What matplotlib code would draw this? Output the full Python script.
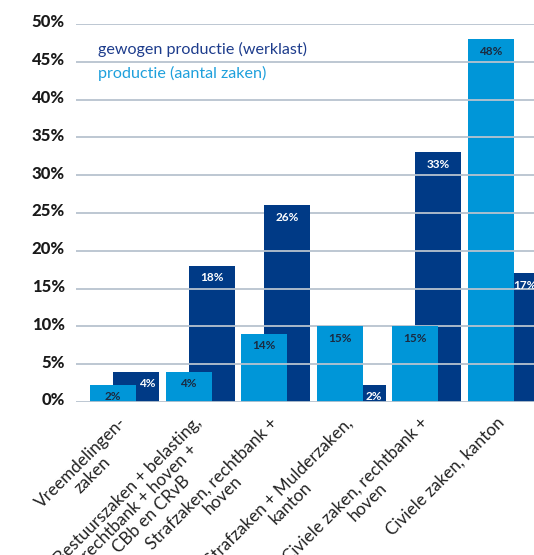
import matplotlib
matplotlib.use("Agg")
import matplotlib.pyplot as plt
from matplotlib.transforms import ScaledTranslation
import numpy as np

plt.rcParams["font.family"] = ["Lato", "DejaVu Sans"]

categories = [
    "Vreemdelingen-\nzaken",
    "Bestuurszaken + belasting,\nrechtbank + hoven +\nCBb en CRvB",
    "Strafzaken, rechtbank +\nhoven",
    "Strafzaken + Mulderzaken,\nkanton",
    "Civiele zaken, rechtbank +\nhoven",
    "Civiele zaken, kanton",
]
# bar heights as drawn in the source picture
aantal_heights = [2.3, 4, 9, 10, 10, 48]
werklast_heights = [4, 18, 26, 2.3, 33, 17]
# value labels as printed on the bars
aantal_labels = ["2%", "4%", "14%", "15%", "15%", "48%"]
werklast_labels = ["4%", "18%", "26%", "2%", "33%", "17%"]
yticks = [0, 5, 10, 15, 20, 25, 30, 35, 40, 45, 50]

light = "#0096d8"
dark = "#003a86"
grid_c = "#b7c3cf"

fig = plt.figure(figsize=(5.34, 5.55), dpi=100)
ax = fig.add_axes([76 / 534, 0.2757, 1 - 76 / 534, 0.6811])

x = np.arange(len(categories))
w = 0.608
off = 0.304
cap = 1.4  # top part of each bar kept clear of gridlines, around the label

ax.bar(x + off, werklast_heights, width=w, color=dark, zorder=1)
ax.bar(x, aantal_heights, width=w, color=light, zorder=1.5)

for yv in yticks:
    ax.axhline(yv, color=grid_c, lw=1.3, zorder=2)

# caps: only on the part of the dark bar that the light bar does not hide
for i in range(len(categories)):
    hd, hl = werklast_heights[i], aantal_heights[i]
    c = min(cap, hd)
    if hl > hd - c:
        left, right = x[i] + w / 2, x[i] + off + w / 2
    else:
        left, right = x[i] + off - w / 2, x[i] + off + w / 2
    ax.bar(left, c, bottom=hd - c, width=right - left, align="edge", color=dark, zorder=2.5)
    c = min(cap, hl)
    ax.bar(x[i], c, bottom=hl - c, width=w, color=light, zorder=2.6)

lab_pad = -12 * 72 / 100
for i in range(len(categories)):
    ax.annotate(aantal_labels[i], (x[i], aantal_heights[i]), xytext=(0, lab_pad),
                textcoords="offset points", ha="center", va="center",
                fontsize=8.5, fontweight="bold", color="#1b2a40", zorder=4)
    xd = x[i] + off
    if aantal_heights[i] > werklast_heights[i] - 2:
        xd = x[i] + off + w / 4
    ax.annotate(werklast_labels[i], (xd, werklast_heights[i]), xytext=(0, lab_pad),
                textcoords="offset points", ha="center", va="center",
                fontsize=8.5, fontweight="bold", color="white", zorder=4,
                annotation_clip=False)

ax.text(-0.2, 46.6, "gewogen productie (werklast)", color="#1d3c8c", fontsize=11.6,
        va="center", ha="left")
ax.text(-0.2, 43.4, "productie (aantal zaken)", color="#1ea0dc", fontsize=11.6,
        va="center", ha="left")

ax.set_xlim(-0.49, 5.57)
ax.set_ylim(0, 50)
ax.set_yticks(yticks)
ax.set_yticklabels([f"{v}%" for v in yticks], fontsize=12, fontweight="black", color="#1a1a1a")
ax.tick_params(axis="y", length=0, pad=8)
shift = ScaledTranslation(0, 3 / 100, fig.dpi_scale_trans)
for lab in ax.get_yticklabels():
    lab.set_transform(lab.get_transform() + shift)
ax.set_xticks(x + off / 2 - 0.09)
ax.set_xticklabels(categories, rotation=45, ha="right", va="top", rotation_mode="anchor",
                   multialignment="center", linespacing=1.05, fontsize=12.3, color="#222222")
ax.tick_params(axis="x", length=0, pad=9)
for s in ax.spines.values():
    s.set_visible(False)

fig.savefig("out.png", dpi=100)
